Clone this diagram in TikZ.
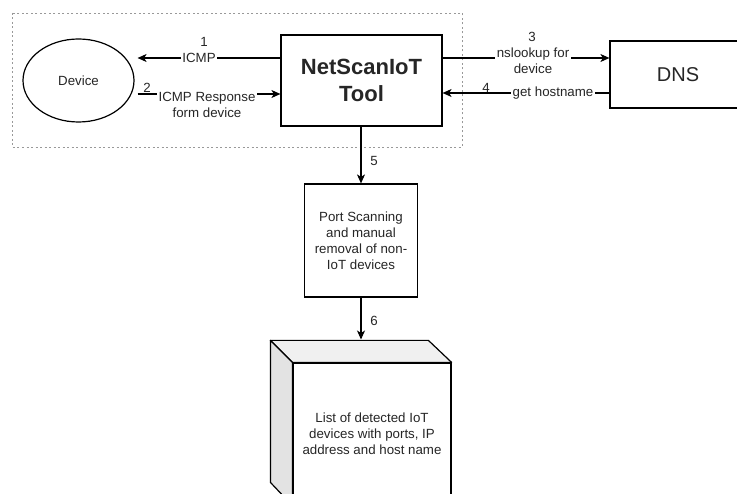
\documentclass[tikz,border=0pt]{standalone}
\usepackage{fontspec}
\setmainfont{Liberation Sans}
\usetikzlibrary{arrows.meta,shapes.geometric}

\tikzset{
  base/.style={font=\fontsize{13.3}{16}\selectfont, align=center, inner sep=1pt, text=black!85},
  box/.style={base, draw, line width=1.2pt, fill=white},
  arr/.style={draw, line width=1.1pt, -{Stealth[length=9pt,width=8pt,inset=2.5pt]}},
  lbl/.style={base, fill=white, inner sep=1.5pt},
  num/.style={base},
  group/.style={draw=gray!80, line width=0.8pt, dash pattern=on 2pt off 2.5pt},
  topface/.style={draw, line width=1.2pt, fill=black!6},
  sideface/.style={draw, line width=1.2pt, fill=black!11},
}

\begin{document}
\begin{tikzpicture}[x=1pt,y=-1pt]
\useasboundingbox (0,0) rectangle (737,494);
\clip (0,0) rectangle (737,494);
\fill[white] (0,0) rectangle (737,494);

% grouping frame around device and tool
\draw[group] (12,13) rectangle (462,147);

% main shapes
\node[base, draw, line width=1.2pt, ellipse, minimum width=111pt, minimum height=83pt] (device) at (78.5,80.5) {Device};
\node[box, minimum width=161pt, minimum height=91pt, font=\fontsize{22}{27}\selectfont\bfseries] (tool) at (361.5,80.5) {NetScanIoT\\Tool};
\node[box, minimum width=136pt, minimum height=67pt, font=\fontsize{20}{24}\selectfont] (dns) at (678,74.5) {DNS};
\node[box, minimum width=113pt, minimum height=113pt] (port) at (361,240.5) {Port Scanning\\and manual\\removal of non-\\IoT devices};

% storage cube: front face plus top and side faces
\node[box, minimum width=158pt, minimum height=142pt] (list) at (372,434) {List of detected IoT\\devices with ports, IP\\address and host name};
\filldraw[topface, line join=round] (list.north west) -- ++(-22,-22) -- ++(158,0) -- (list.north east) -- cycle;
\filldraw[sideface, line join=round] (list.north west) -- ++(-22,-22) -- ++(0,142) -- (list.south west) -- cycle;
\coordinate (listtop) at (361,341);

% connectors
\draw[arr] (tool.west |- 0,58) -- ([xshift=3pt]device.east |- 0,58);
\draw[arr] ([xshift=3pt]device.east |- 0,94) -- (tool.west |- 0,94);
\draw[arr] (tool.east |- 0,58) -- (dns.west |- 0,58);
\draw[arr] (dns.west |- 0,93) -- (tool.east |- 0,93);
\draw[arr] (tool.south -| port.north) -- (port.north);
\draw[arr, shorten >=1.5pt] (port.south) -- (listtop);

% connector labels
\node[num] (n1) at (204,42) {1};
\node[lbl] (l1) at (199,58) {ICMP};
\node[num] (n2) at (147,88) {2};
\node[lbl] (l2) at (207,105) {ICMP Response\\form device};
\node[num] (n3) at (532,37) {3};
\node[lbl] (l3) at (533,60.5) {nslookup for\\device};
\node[num] (n4) at (486,88) {4};
\node[lbl] (l4) at (553,93) {get hostname};
\node[num] (n5) at (374,161) {5};
\node[num] (n6) at (374,321) {6};
\end{tikzpicture}
\end{document}
